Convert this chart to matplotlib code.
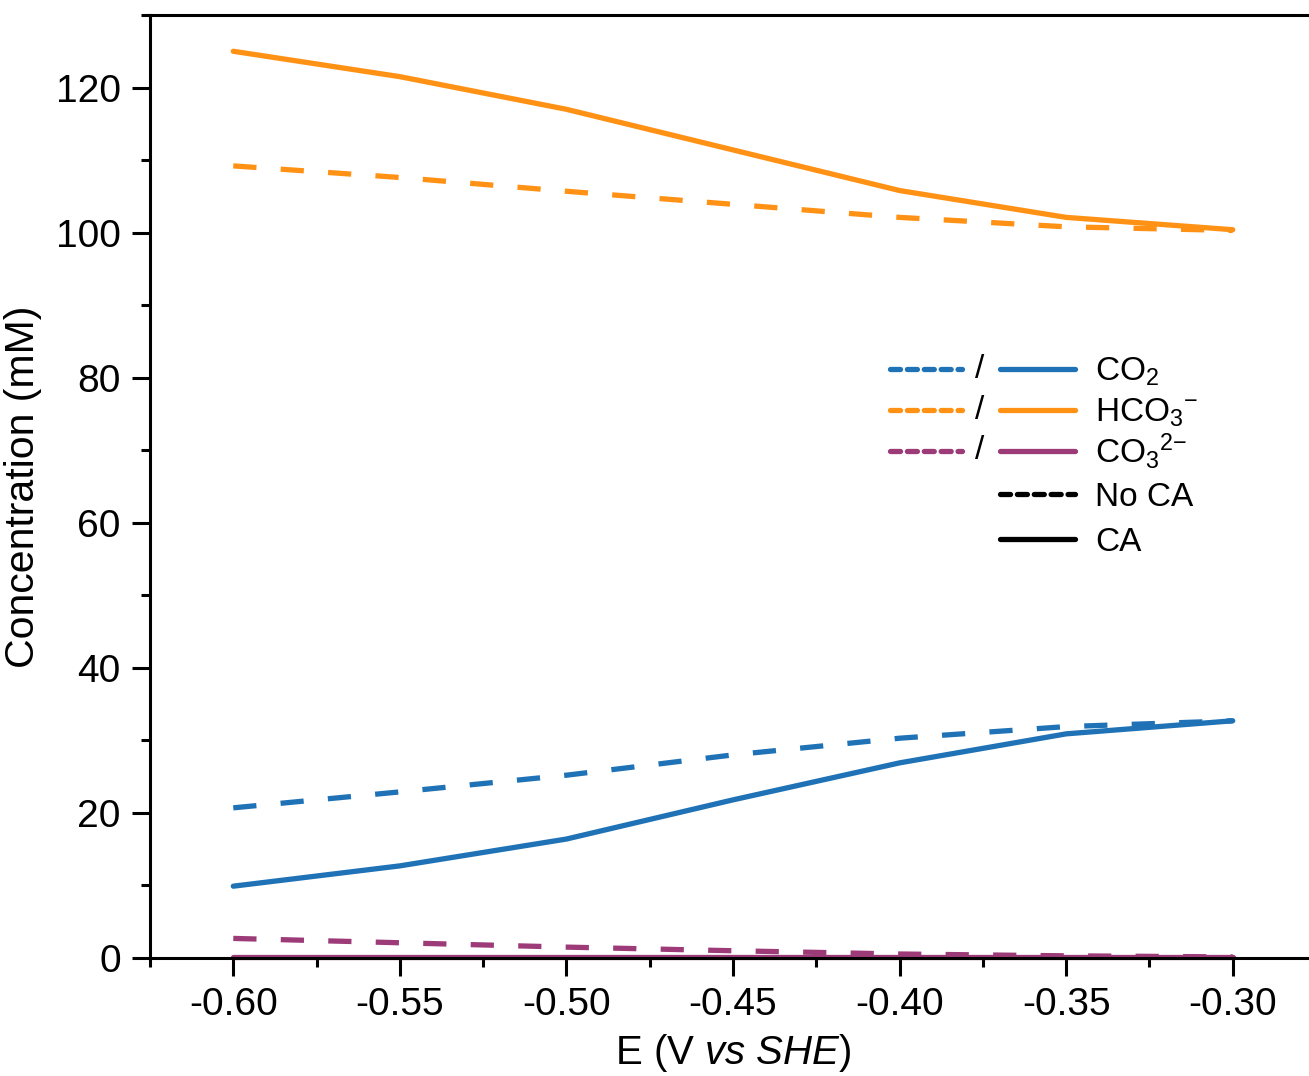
import numpy as np
import matplotlib
matplotlib.use('Agg')
import matplotlib.pyplot as plt
from matplotlib.lines import Line2D
from matplotlib.ticker import MultipleLocator

plt.rcParams['font.family'] = ['Liberation Sans', 'DejaVu Sans']
plt.rcParams['mathtext.fontset'] = 'custom'
plt.rcParams['mathtext.rm'] = 'Liberation Sans'
plt.rcParams['mathtext.it'] = 'Liberation Sans:italic'

# potentials (V vs SHE)
potential = [-0.60, -0.55, -0.50, -0.45, -0.40, -0.35, -0.30]

# concentrations (mM), without and with carbonic anhydrase
co2_no_ca = [20.7, 22.9, 25.2, 28.0, 30.3, 31.9, 32.7]
co2_ca = [9.9, 12.7, 16.4, 21.8, 26.9, 30.9, 32.7]
hco3_no_ca = [109.2, 107.6, 105.7, 103.9, 102.1, 100.8, 100.3]
hco3_ca = [125.0, 121.5, 117.0, 111.4, 105.8, 102.1, 100.4]
co3_no_ca = [2.7, 2.1, 1.5, 1.0, 0.55, 0.3, 0.15]
co3_ca = [0.2, 0.2, 0.2, 0.2, 0.2, 0.2, 0.2]

species = [r'CO$_2$', r'HCO$_3$$^{-}$', r'CO$_3$$^{2{-}}$']
colors = ['#1f72b6', '#ff9115', '#9c3b78']

lw = 3.8
dash = (4.4, 4.6)
key_dash = (1.9, 1.3)

W, H = 1309, 1076
fig = plt.figure(figsize=(W / 100, H / 100), dpi=100)
ax = fig.add_axes([150 / W, 118 / H, 1166 / W, 943 / H])

series = [(co2_no_ca, co2_ca), (hco3_no_ca, hco3_ca), (co3_no_ca, co3_ca)]
for (no_ca, ca), c in zip(series, colors):
    ax.plot(potential, no_ca, color=c, lw=lw, dashes=dash,
            dash_capstyle='butt', clip_on=False)
    ax.plot(potential, ca, color=c, lw=lw, solid_capstyle='round',
            clip_on=False)


# hand-built key: dashed sample / solid sample, label
def fx(px):
    return px / W


def fy(py):
    return 1 - py / H


def key_line(x0, x1, y, color, dashed):
    kw = dict(color=color, lw=lw, transform=fig.transFigure,
              solid_capstyle='round', dash_capstyle='round')
    if dashed:
        kw['dashes'] = key_dash
    fig.add_artist(Line2D([fx(x0), fx(x1)], [fy(y), fy(y)], **kw))


row_y = [369, 410, 451, 494, 539]
for y, c, name in zip(row_y[:3], colors, species):
    key_line(890, 962, y, c, True)
    fig.text(fx(980), fy(y), '/', fontsize=24, ha='center',
             va='center')
    key_line(1000, 1075, y, c, False)
    fig.text(fx(1095), fy(y + 12), name, fontsize=24, va='baseline')
for y, name, dashed in zip(row_y[3:], ['No CA', 'CA'], [True, False]):
    key_line(1000, 1075, y, 'black', dashed)
    fig.text(fx(1095), fy(y + 12), name, fontsize=24, va='baseline')

ax.set_xlim(-0.625, -0.275)
ax.set_ylim(0, 130)
ax.xaxis.set_major_locator(MultipleLocator(0.05))
ax.xaxis.set_minor_locator(MultipleLocator(0.025))
ax.yaxis.set_major_locator(MultipleLocator(20))
ax.yaxis.set_minor_locator(MultipleLocator(10))
ax.xaxis.set_major_formatter(plt.FuncFormatter(lambda v, p: f'{v:.2f}'))

ax.spines['right'].set_visible(False)
for sp in ['left', 'bottom', 'top']:
    ax.spines[sp].set_linewidth(2.2)
ax.tick_params(which='both', direction='out', width=2.2, labelsize=28,
               top=False, right=False)
ax.tick_params(which='major', length=13, pad=8)
ax.tick_params(which='minor', length=6.5)

ax.set_xlabel(r'E (V $\mathit{vs}$ $\mathit{SHE}$)', fontsize=29, labelpad=6)
ax.set_ylabel('Concentration (mM)', fontsize=29.5, labelpad=10)

fig.savefig('out.png', dpi=100)
